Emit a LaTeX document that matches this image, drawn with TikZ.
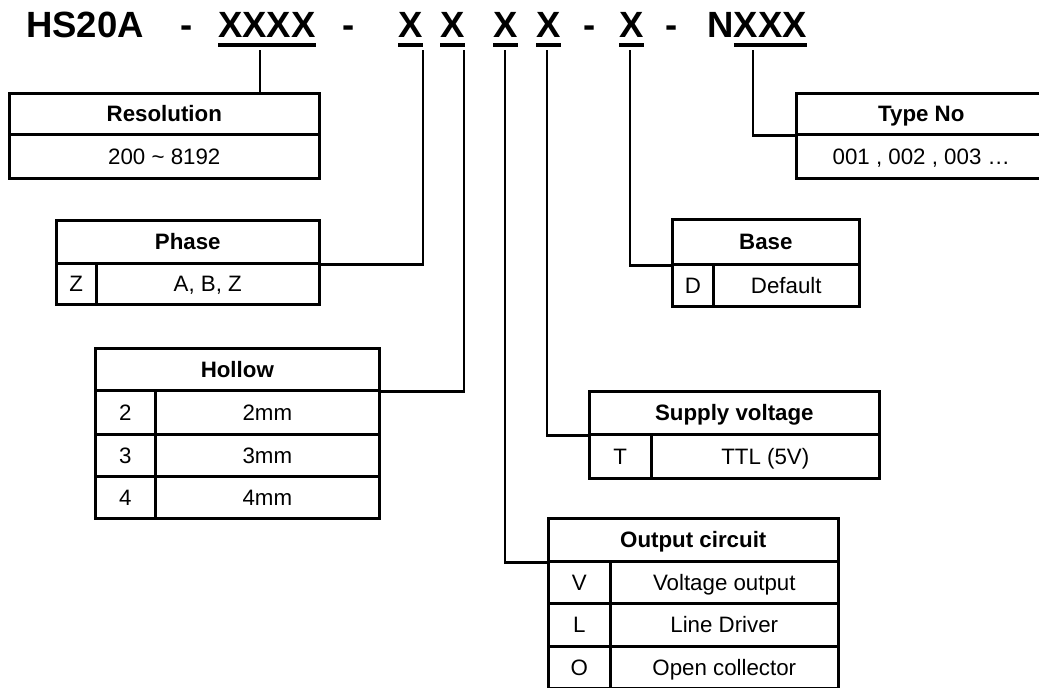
\documentclass[tikz,border=0pt]{standalone}
\usepackage{fontspec}
\setmainfont{Liberation Sans}
\begin{document}
\begin{tikzpicture}[x=1pt,y=-1pt,
  cell/.style={draw, line width=2.6pt, inner sep=0pt, anchor=north west, text height=16pt, text depth=0pt, font=\fontsize{22.3}{25}\selectfont},
  hd/.style={cell, font=\bfseries\fontsize{22.3}{25}\selectfont},
  ttl/.style={inner sep=0pt, anchor=base west, font=\bfseries\fontsize{36.5}{40}\selectfont},
  dsh/.style={inner sep=0pt, anchor=base, font=\bfseries\fontsize{36.5}{40}\selectfont},
  ul/.style={line width=3.5pt},
  conn/.style={line width=2.6pt}]
\useasboundingbox (0,0) rectangle (1039,688);
% title
\node[ttl] (t0) at (26,37) {HS20A};
\node[dsh] (d1) at (187,37) {-};
\node[ttl] (tA) at (218,37) {XXXX};
\node[dsh] (d2) at (349,37) {-};
\node[ttl] (x1) at (398,37) {X};
\node[ttl] (x2) at (440,37) {X};
\node[ttl] (x3) at (493,37) {X};
\node[ttl] (x4) at (536,37) {X};
\node[dsh] (d3) at (590,37) {-};
\node[ttl] (x5) at (619,37) {X};
\node[dsh] (d4) at (672,37) {-};
\node[ttl] (tN) at (707,37) {N};
\node[ttl] (tB) at (tN.base east) {XXX};
\foreach \n in {tA,x1,x2,x3,x4,x5,tB}
  \draw[ul] ([yshift=-8pt]\n.base west) -- ([yshift=-8pt]\n.base east);
% Resolution
\node[hd, minimum width=310pt, minimum height=41pt] (resH) at (8,92) {Resolution};
\node[cell, minimum width=310pt, minimum height=44pt] (resB) at (8,133) {200 \textasciitilde{} 8192};
% Phase
\node[hd, minimum width=263pt, minimum height=43pt] (phH) at (55,219) {Phase};
\node[cell, minimum width=40pt, minimum height=41pt] (phK) at (55,262) {Z};
\node[cell, minimum width=223pt, minimum height=41pt] (phV) at (95,262) {A, B, Z};
% Hollow
\node[hd, minimum width=284pt, minimum height=42pt] (hoH) at (94,347) {Hollow};
\node[cell, minimum width=60pt, minimum height=44pt] (hoK1) at (94,389) {2};
\node[cell, minimum width=224pt, minimum height=44pt] (hoV1) at (154,389) {2mm};
\node[cell, minimum width=60pt, minimum height=42pt] (hoK2) at (94,433) {3};
\node[cell, minimum width=224pt, minimum height=42pt] (hoV2) at (154,433) {3mm};
\node[cell, minimum width=60pt, minimum height=42pt] (hoK3) at (94,475) {4};
\node[cell, minimum width=224pt, minimum height=42pt] (hoV3) at (154,475) {4mm};
% Type No
\node[hd, minimum width=250pt, minimum height=41pt] (tyH) at (795,92) {Type No};
\node[cell, minimum width=250pt, minimum height=44pt] (tyB) at (795,133) {001 , 002 , 003 …};
% Base
\node[hd, minimum width=187pt, minimum height=45pt] (baH) at (671,218) {Base};
\node[cell, minimum width=41pt, minimum height=42pt] (baK) at (671,263) {D};
\node[cell, minimum width=146pt, minimum height=42pt] (baV) at (712,263) {Default};
% Supply voltage
\node[hd, minimum width=290pt, minimum height=43pt] (suH) at (588,390) {Supply voltage};
\node[cell, minimum width=62pt, minimum height=44pt] (suK) at (588,433) {T};
\node[cell, minimum width=228pt, minimum height=44pt] (suV) at (650,433) {TTL (5V)};
% Output circuit
\node[hd, minimum width=290pt, minimum height=43pt] (ouH) at (547,517) {Output circuit};
\node[cell, minimum width=62pt, minimum height=42pt] (ouK1) at (547,560) {V};
\node[cell, minimum width=228pt, minimum height=42pt] (ouV1) at (609,560) {Voltage output};
\node[cell, minimum width=62pt, minimum height=43pt] (ouK2) at (547,602) {L};
\node[cell, minimum width=228pt, minimum height=43pt] (ouV2) at (609,602) {Line Driver};
\node[cell, minimum width=62pt, minimum height=42pt] (ouK3) at (547,645) {O};
\node[cell, minimum width=228pt, minimum height=42pt] (ouV3) at (609,645) {Open collector};
% connector starts
\coordinate (cRes) at (260,50);
\coordinate (cPh) at (423,50);
\coordinate (cHo) at (464,50);
\coordinate (cOu) at (505,50);
\coordinate (cSu) at (547,50);
\coordinate (cBa) at (630,50);
\coordinate (cTy) at (753,50);
\draw[conn] (cRes) -- (cRes |- resH.north);
\draw[conn] (cPh) |- (phH.south east);
\draw[conn] (cHo) |- (hoH.south east);
\draw[conn] (cOu) |- (ouH.south west);
\draw[conn] (cSu) |- (suH.south west);
\draw[conn] (cBa) |- (baH.south west);
\draw[conn] (cTy) |- (tyH.south west);
\end{tikzpicture}
\end{document}
